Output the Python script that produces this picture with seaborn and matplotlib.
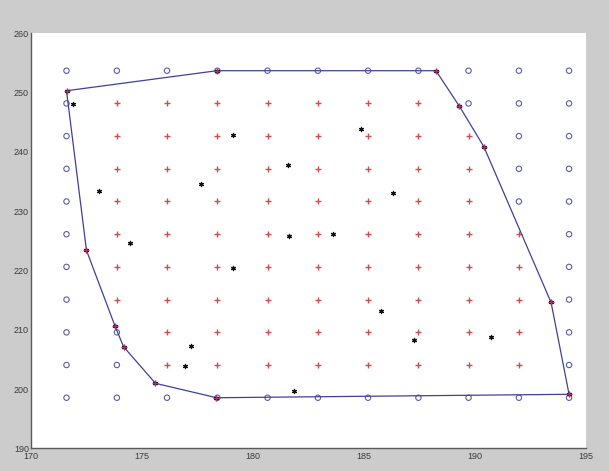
import numpy as np
import pandas as pd
import matplotlib
matplotlib.use("Agg")
import matplotlib.pyplot as plt
from matplotlib.path import Path
import seaborn as sns

# Convex hull of the sample points, in drawing order
hull_x = [171.60, 178.38, 188.25, 189.31, 190.41, 193.44, 194.25, 178.36, 175.61, 174.17, 173.78, 172.50]
hull_y = [250.31, 253.69, 253.69, 247.68, 240.87, 214.60, 199.11, 198.53, 200.96, 207.14, 210.68, 223.39]

# Remaining sample points strictly inside the hull
inner_x = [171.89, 173.06, 174.48, 177.68, 179.11, 184.88, 181.58, 186.31, 181.64,
           183.59, 179.11, 185.77, 181.86, 177.23, 176.92, 187.24, 190.74]
inner_y = [248.02, 233.45, 224.68, 234.53, 242.84, 243.80, 237.73, 233.11, 225.86,
           226.09, 220.46, 213.16, 199.71, 207.25, 203.88, 208.27, 208.82]

# Regular test grid spanning the bounding box of the samples
grid_x = [171.60, 173.87, 176.13, 178.40, 180.66, 182.93, 185.19, 187.46, 189.72, 191.99, 194.25]
grid_y = [198.53, 204.05, 209.56, 215.08, 220.60, 226.11, 231.63, 237.14, 242.66, 248.17, 253.69]

x_ticks = [170, 175, 180, 185, 190, 195]
y_ticks = [190, 200, 210, 220, 230, 240, 250, 260]

sns.set_style("white")
plt.rcParams["font.family"] = ["Liberation Sans", "DejaVu Sans"]

W, H = 609, 471
fig = plt.figure(figsize=(W / 100, H / 100), dpi=100, facecolor="#cccccc")
left, right, top, bottom = 31.0, 585.7, 33.3, 448.3
ax = fig.add_axes([left / W, 1 - bottom / H, (right - left) / W, (bottom - top) / H])
ax.set_facecolor("white")

# Classify grid nodes: strictly inside the hull vs outside / on the boundary
gx, gy = np.meshgrid(grid_x, grid_y)
pts = np.column_stack([gx.ravel(), gy.ravel()])
poly = np.column_stack([hull_x, hull_y])
inside = Path(poly).contains_points(pts)
a = poly
d = np.roll(poly, -1, axis=0) - a
t = ((pts[:, None, :] - a[None]) * d[None]).sum(-1) / (d ** 2).sum(-1)
t = np.clip(t, 0, 1)
proj = a[None] + t[..., None] * d[None]
dist = np.linalg.norm(pts[:, None, :] - proj, axis=-1).min(axis=1)
inside &= dist > 0.05
grid = pd.DataFrame({"x": pts[:, 0], "y": pts[:, 1], "inside": inside})

blue_o = "#5c5ca8"
red_p = "#c85050"
line_c = "#40409a"

sns.scatterplot(data=grid[~grid["inside"]], x="x", y="y", marker="o", s=15,
                color=blue_o, facecolor="none", edgecolor=blue_o, linewidth=0.8,
                ax=ax, legend=False, zorder=2)
sns.scatterplot(data=grid[grid["inside"]], x="x", y="y", marker="+", s=20,
                color=red_p, linewidth=1.0, ax=ax, legend=False, zorder=2)

hull = pd.DataFrame({"x": hull_x + hull_x[:1], "y": hull_y + hull_y[:1]})
sns.lineplot(data=hull, x="x", y="y", sort=False, estimator=None, color=line_c,
             linewidth=0.9, ax=ax, zorder=3)

pts_all = pd.DataFrame({"x": hull_x + inner_x, "y": hull_y + inner_y})
sns.scatterplot(data=pts_all, x="x", y="y", marker=(6, 2, 0), s=9, color="#111111",
                linewidth=0.9, ax=ax, legend=False, zorder=4)
sns.scatterplot(data=pd.DataFrame({"x": hull_x, "y": hull_y}), x="x", y="y",
                marker="+", s=24, color="#b83060", linewidth=1.0, ax=ax,
                legend=False, zorder=5)

ax.set_xlim(170, 195)
ax.set_ylim(190, 260)
ax.set_xticks(x_ticks)
ax.set_yticks(y_ticks)
ax.set_xlabel("")
ax.set_ylabel("")
for side in ("top", "right"):
    ax.spines[side].set_visible(False)
for side in ("left", "bottom"):
    ax.spines[side].set_color("#5a5a5a")
    ax.spines[side].set_linewidth(1.0)
ax.tick_params(axis="x", direction="in", length=6.5, width=0.8, color="#5a5a5a",
               labelsize=6.5, labelcolor="#3a3a3a", pad=3)
ax.tick_params(axis="y", direction="in", length=3.6, width=0.8, color="#5a5a5a",
               labelsize=6.5, labelcolor="#3a3a3a", pad=1.5)
for lab in ax.get_xticklabels():
    lab.set_fontstretch("condensed")

fig.savefig("out.png", dpi=100, facecolor=fig.get_facecolor())
